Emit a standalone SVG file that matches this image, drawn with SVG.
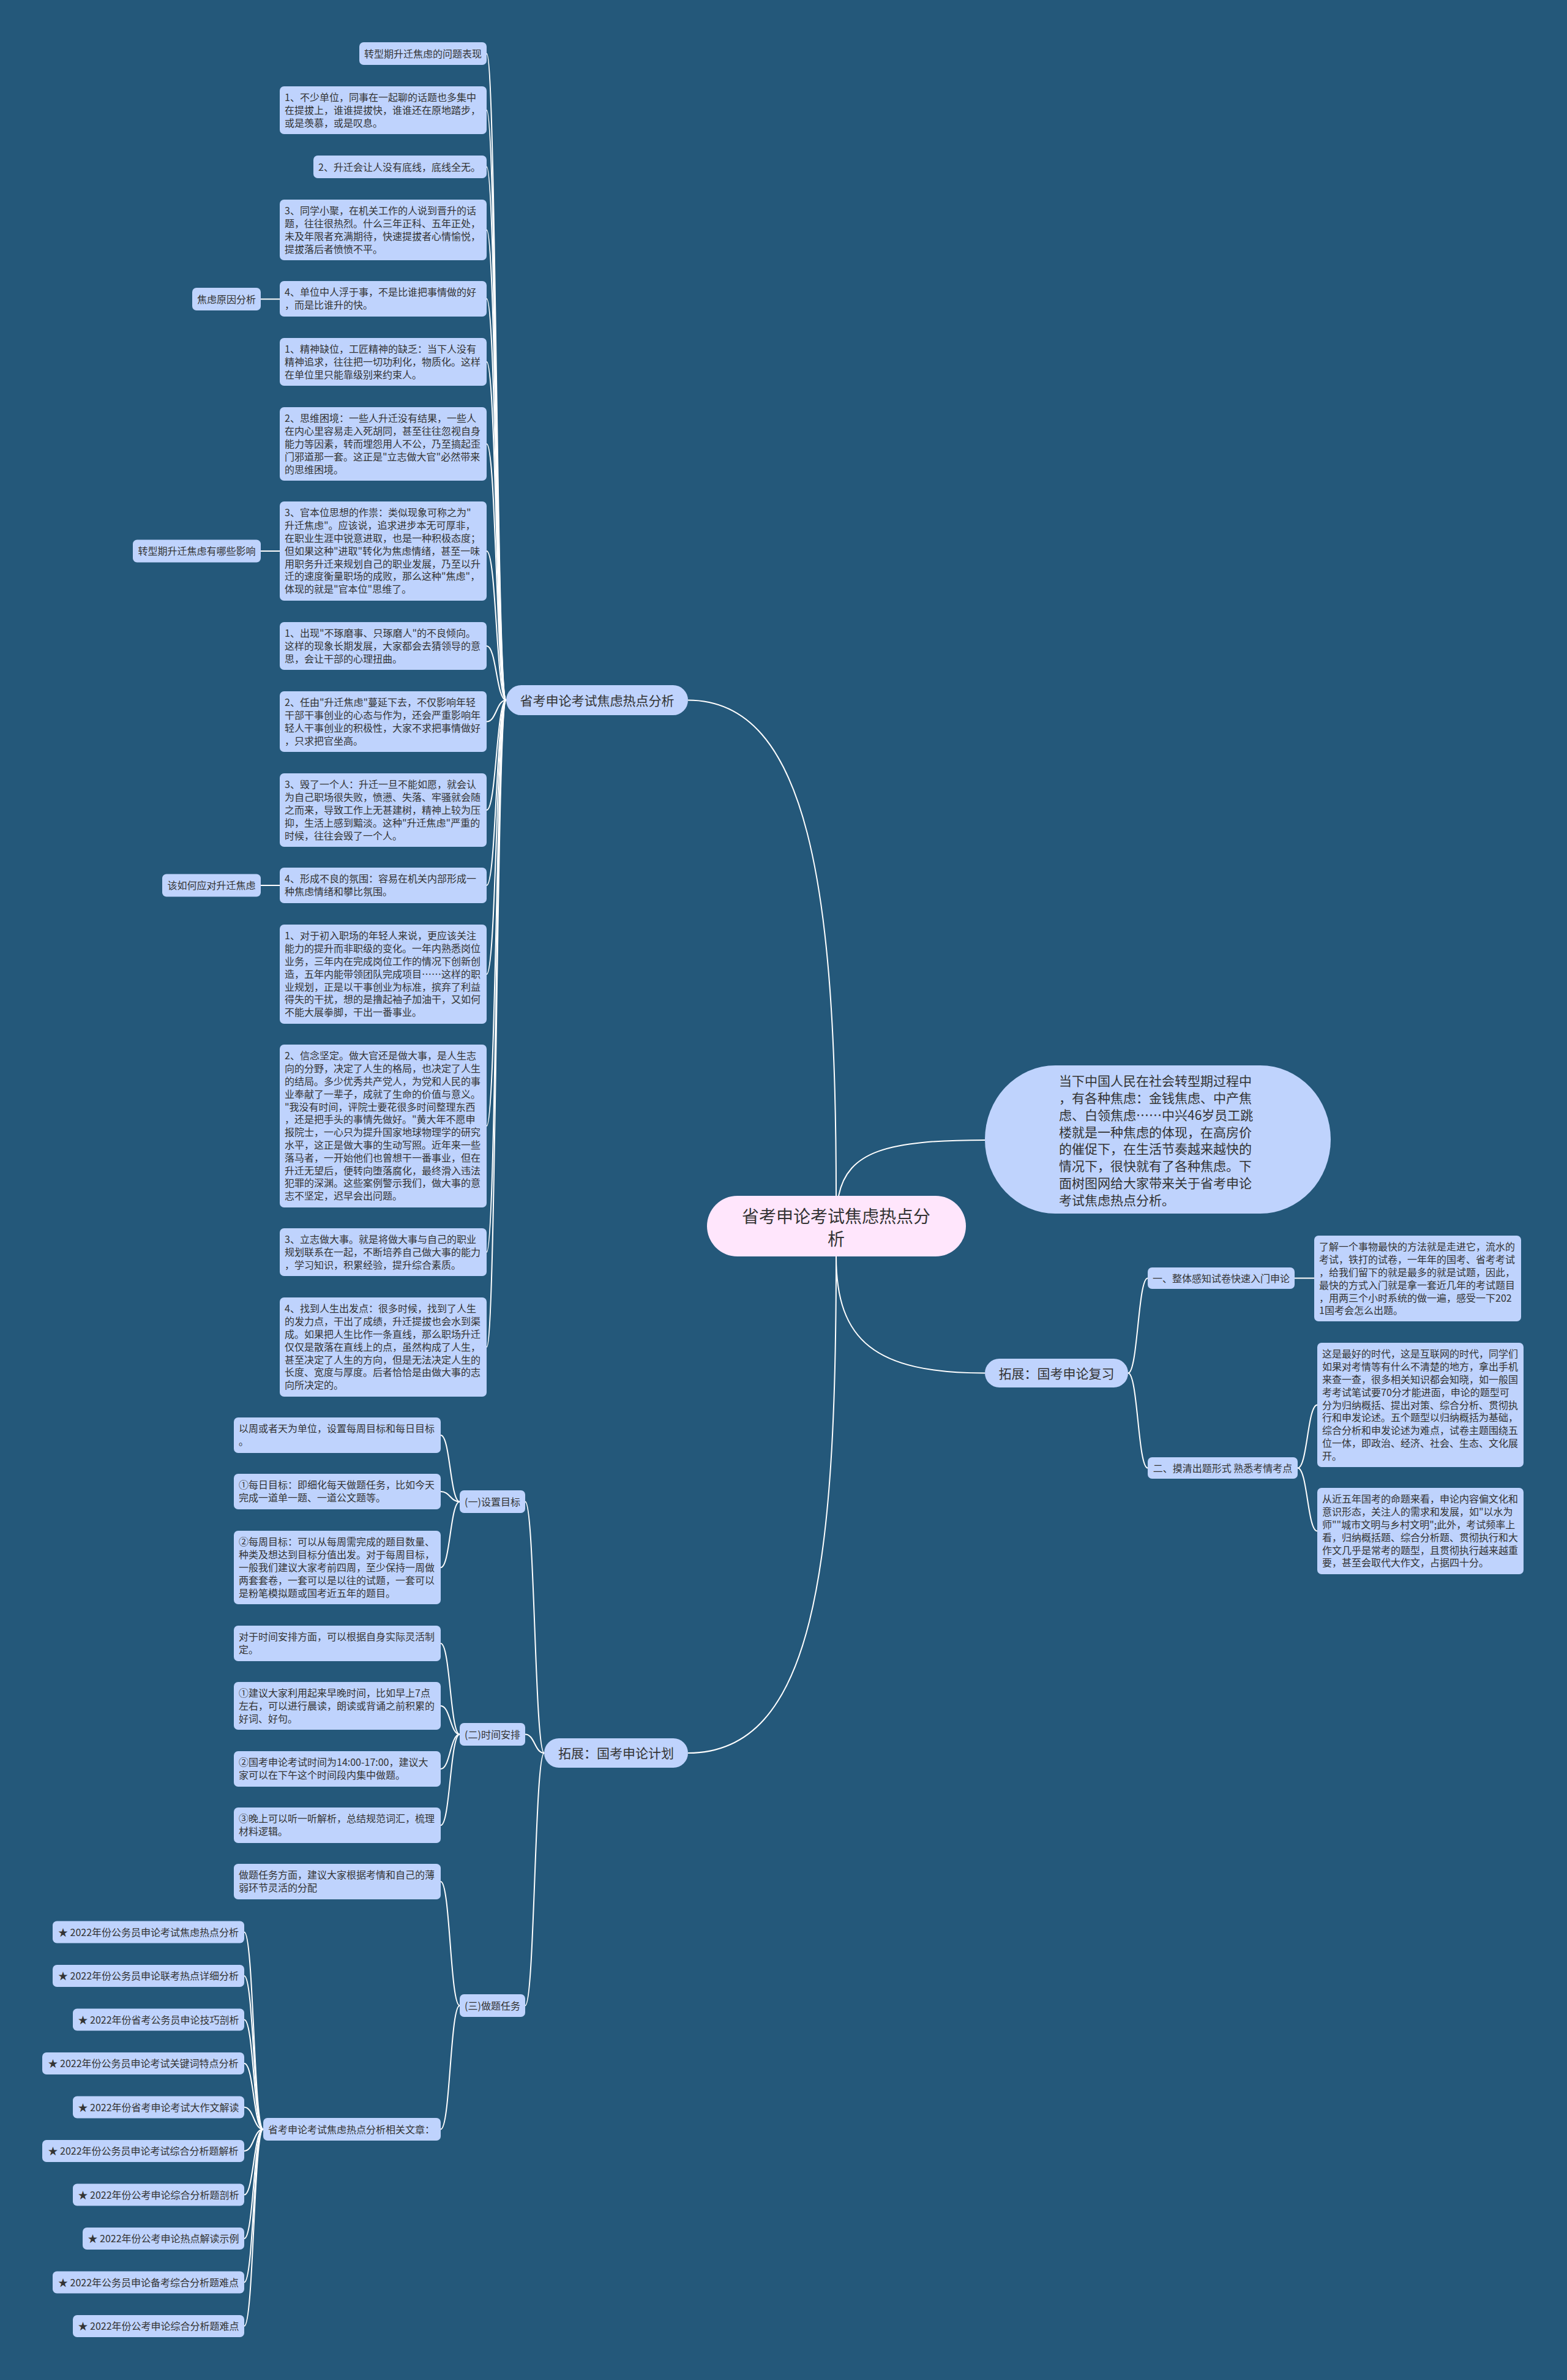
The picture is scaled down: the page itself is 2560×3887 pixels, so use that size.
<svg xmlns="http://www.w3.org/2000/svg" width="2560" height="3887" viewBox="0 0 2560 3887">
<style>
.bg{fill:#24587A}
.n{fill:#BFD3FD}
.c{fill:none;stroke:#FFFFFF;stroke-width:2}
text{font-family:"Noto Sans CJK SC","Microsoft YaHei",sans-serif;fill:#333333}
.t{font-size:16px}
.tm{font-size:16px;text-anchor:middle}
.tb{font-size:21px;text-anchor:middle}
.tr{font-size:28px;text-anchor:middle}
.tp{font-size:21px}
</style>
<rect class="bg" x="0" y="0" width="2560" height="3887"/>
<g id="connectors">
<path class="c" d="M1366,1953C1366,1450 1320,1143.5 1124,1143.5"/>
<path class="c" d="M1370,1953C1385,1880 1450,1862 1609,1862"/>
<path class="c" d="M1366,2052C1366,2190 1430,2242.5 1609,2242.5"/>
<path class="c" d="M1366,2052C1366,2560 1330,2863 1124,2863"/>
<path class="c" d="M827,1143.5C811,1143.5 811,87.5 795,87.5"/>
<path class="c" d="M827,1143.5C811,1143.5 811,180 795,180"/>
<path class="c" d="M827,1143.5C811,1143.5 811,272.5 795,272.5"/>
<path class="c" d="M827,1143.5C811,1143.5 811,375.5 795,375.5"/>
<path class="c" d="M827,1143.5C811,1143.5 811,488 795,488"/>
<path class="c" d="M827,1143.5C811,1143.5 811,591 795,591"/>
<path class="c" d="M827,1143.5C811,1143.5 811,725 795,725"/>
<path class="c" d="M827,1143.5C811,1143.5 811,900 795,900"/>
<path class="c" d="M827,1143.5C811,1143.5 811,1055 795,1055"/>
<path class="c" d="M827,1143.5C811,1143.5 811,1178.5 795,1178.5"/>
<path class="c" d="M827,1143.5C811,1143.5 811,1323 795,1323"/>
<path class="c" d="M827,1143.5C811,1143.5 811,1446 795,1446"/>
<path class="c" d="M827,1143.5C811,1143.5 811,1591 795,1591"/>
<path class="c" d="M827,1143.5C811,1143.5 811,1839 795,1839"/>
<path class="c" d="M827,1143.5C811,1143.5 811,2045 795,2045"/>
<path class="c" d="M827,1143.5C811,1143.5 811,2200 795,2200"/>
<path class="c" d="M457,488.5L426,488.5"/>
<path class="c" d="M457,900L426,900"/>
<path class="c" d="M457,1446L426,1446"/>
<path class="c" d="M889,2863C873.5,2863 873.5,2452.5 858,2452.5"/>
<path class="c" d="M889,2863C873.5,2863 873.5,2832.5 858,2832.5"/>
<path class="c" d="M889,2863C873.5,2863 873.5,3275.5 858,3275.5"/>
<path class="c" d="M751,2452.5C735.5,2452.5 735.5,2344 720,2344"/>
<path class="c" d="M751,2452.5C735.5,2452.5 735.5,2436 720,2436"/>
<path class="c" d="M751,2452.5C735.5,2452.5 735.5,2560 720,2560"/>
<path class="c" d="M751,2832.5C735.5,2832.5 735.5,2684 720,2684"/>
<path class="c" d="M751,2832.5C735.5,2832.5 735.5,2786 720,2786"/>
<path class="c" d="M751,2832.5C735.5,2832.5 735.5,2889 720,2889"/>
<path class="c" d="M751,2832.5C735.5,2832.5 735.5,2981 720,2981"/>
<path class="c" d="M751,3275.5C735.5,3275.5 735.5,3073 720,3073"/>
<path class="c" d="M751,3275.5C735.5,3275.5 735.5,3477.5 720,3477.5"/>
<path class="c" d="M430,3477.5C414.5,3477.5 414.5,3155.5 399,3155.5"/>
<path class="c" d="M430,3477.5C414.5,3477.5 414.5,3227 399,3227"/>
<path class="c" d="M430,3477.5C414.5,3477.5 414.5,3298.5 399,3298.5"/>
<path class="c" d="M430,3477.5C414.5,3477.5 414.5,3370 399,3370"/>
<path class="c" d="M430,3477.5C414.5,3477.5 414.5,3441.5 399,3441.5"/>
<path class="c" d="M430,3477.5C414.5,3477.5 414.5,3513 399,3513"/>
<path class="c" d="M430,3477.5C414.5,3477.5 414.5,3584.5 399,3584.5"/>
<path class="c" d="M430,3477.5C414.5,3477.5 414.5,3656 399,3656"/>
<path class="c" d="M430,3477.5C414.5,3477.5 414.5,3727.5 399,3727.5"/>
<path class="c" d="M430,3477.5C414.5,3477.5 414.5,3799 399,3799"/>
<path class="c" d="M1843,2242.5C1859,2242.5 1859,2087.5 1875,2087.5"/>
<path class="c" d="M1843,2242.5C1859,2242.5 1859,2397.5 1875,2397.5"/>
<path class="c" d="M2115,2087.5L2147,2087.5"/>
<path class="c" d="M2120,2397.5C2136,2397.5 2136,2294.5 2152,2294.5"/>
<path class="c" d="M2120,2397.5C2136,2397.5 2136,2500.5 2152,2500.5"/>
</g>
<g id="center">
<rect x="1155" y="1953" width="423" height="99" rx="49.5" fill="#FFE6FC"/>
<text class="tr" x="1366" y="1996.5">省考申论考试焦虑热点分</text>
<text class="tr" x="1366" y="2033.5">析</text>
</g>
<g id="intro">
<rect class="n" x="1609" y="1740" width="565" height="242" rx="115" ry="121"/>
<text class="tp" x="1730" y="1773"><tspan x="1730">当下中国人民在社会转型期过程中</tspan><tspan x="1730" dy="27.85">，有各种焦虑：金钱焦虑、中产焦</tspan><tspan x="1730" dy="27.85">虑、白领焦虑……中兴46岁员工跳</tspan><tspan x="1730" dy="27.85">楼就是一种焦虑的体现，在高房价</tspan><tspan x="1730" dy="27.85">的催促下，在生活节奏越来越快的</tspan><tspan x="1730" dy="27.85">情况下，很快就有了各种焦虑。下</tspan><tspan x="1730" dy="27.85">面树图网给大家带来关于省考申论</tspan><tspan x="1730" dy="27.85">考试焦虑热点分析。</tspan></text>
</g>
<g id="b1">
<rect class="n" x="827" y="1119" width="297" height="49" rx="24.5"/>
<text class="tb" x="975.5" y="1151.5">省考申论考试焦虑热点分析</text>
</g>
<g id="n0"><rect class="n" x="587" y="69" width="208" height="37" rx="7"/><text class="t" x="595" y="93.5">转型期升迁焦虑的问题表现</text></g>
<g id="n1"><rect class="n" x="457" y="141" width="338" height="78" rx="7"/><text class="t" x="465" y="165.4"><tspan x="465">1、不少单位，同事在一起聊的话题也多集中</tspan><tspan x="465" dy="20.8">在提拔上，谁谁提拔快，谁谁还在原地踏步，</tspan><tspan x="465" dy="20.8">或是羡慕，或是叹息。</tspan></text></g>
<g id="n2"><rect class="n" x="512" y="254" width="283" height="37" rx="7"/><text class="t" x="520" y="278.5">2、升迁会让人没有底线，底线全无。</text></g>
<g id="n3"><rect class="n" x="457" y="326" width="338" height="99" rx="7"/><text class="t" x="465" y="350.4"><tspan x="465">3、同学小聚，在机关工作的人说到晋升的话</tspan><tspan x="465" dy="20.8">题，往往很热烈。什么三年正科、五年正处，</tspan><tspan x="465" dy="20.8">未及年限者充满期待，快速提拔者心情愉悦，</tspan><tspan x="465" dy="20.8">提拔落后者愤愤不平。</tspan></text></g>
<g id="n4"><rect class="n" x="457" y="459" width="338" height="58" rx="7"/><text class="t" x="465" y="483.4"><tspan x="465">4、单位中人浮于事，不是比谁把事情做的好</tspan><tspan x="465" dy="20.8">，而是比谁升的快。</tspan></text></g>
<g id="s_a"><rect class="n" x="314" y="470" width="112" height="37" rx="7"/><text class="tm" x="370" y="494.5">焦虑原因分析</text></g>
<g id="n5"><rect class="n" x="457" y="552" width="338" height="78" rx="7"/><text class="t" x="465" y="576.4"><tspan x="465">1、精神缺位，工匠精神的缺乏：当下人没有</tspan><tspan x="465" dy="20.8">精神追求，往往把一切功利化，物质化。这样</tspan><tspan x="465" dy="20.8">在单位里只能靠级别来约束人。</tspan></text></g>
<g id="n6"><rect class="n" x="457" y="665" width="338" height="120" rx="7"/><text class="t" x="465" y="689.4"><tspan x="465">2、思维困境：一些人升迁没有结果，一些人</tspan><tspan x="465" dy="20.8">在内心里容易走入死胡同，甚至往往忽视自身</tspan><tspan x="465" dy="20.8">能力等因素，转而埋怨用人不公，乃至搞起歪</tspan><tspan x="465" dy="20.8">门邪道那一套。这正是"立志做大官"必然带来</tspan><tspan x="465" dy="20.8">的思维困境。</tspan></text></g>
<g id="n7"><rect class="n" x="457" y="819" width="338" height="162" rx="7"/><text class="t" x="465" y="843.4"><tspan x="465">3、官本位思想的作祟：类似现象可称之为"</tspan><tspan x="465" dy="20.8">升迁焦虑"。应该说，追求进步本无可厚非，</tspan><tspan x="465" dy="20.8">在职业生涯中锐意进取，也是一种积极态度；</tspan><tspan x="465" dy="20.8">但如果这种"进取"转化为焦虑情绪，甚至一味</tspan><tspan x="465" dy="20.8">用职务升迁来规划自己的职业发展，乃至以升</tspan><tspan x="465" dy="20.8">迁的速度衡量职场的成败，那么这种"焦虑"，</tspan><tspan x="465" dy="20.8">体现的就是"官本位"思维了。</tspan></text></g>
<g id="s_b"><rect class="n" x="217" y="881.5" width="209" height="37" rx="7"/><text class="tm" x="321.5" y="906">转型期升迁焦虑有哪些影响</text></g>
<g id="n8"><rect class="n" x="457" y="1016" width="338" height="78" rx="7"/><text class="t" x="465" y="1040.4"><tspan x="465">1、出现"不琢磨事、只琢磨人"的不良倾向。</tspan><tspan x="465" dy="20.8">这样的现象长期发展，大家都会去猜领导的意</tspan><tspan x="465" dy="20.8">思，会让干部的心理扭曲。</tspan></text></g>
<g id="n9"><rect class="n" x="457" y="1129" width="338" height="99" rx="7"/><text class="t" x="465" y="1153.4"><tspan x="465">2、任由"升迁焦虑"蔓延下去，不仅影响年轻</tspan><tspan x="465" dy="20.8">干部干事创业的心态与作为，还会严重影响年</tspan><tspan x="465" dy="20.8">轻人干事创业的积极性，大家不求把事情做好</tspan><tspan x="465" dy="20.8">，只求把官坐高。</tspan></text></g>
<g id="n10"><rect class="n" x="457" y="1263" width="338" height="120" rx="7"/><text class="t" x="465" y="1287.4"><tspan x="465">3、毁了一个人：升迁一旦不能如愿，就会认</tspan><tspan x="465" dy="20.8">为自己职场很失败，愤懑、失落、牢骚就会随</tspan><tspan x="465" dy="20.8">之而来，导致工作上无甚建树，精神上较为压</tspan><tspan x="465" dy="20.8">抑，生活上感到黯淡。这种"升迁焦虑"严重的</tspan><tspan x="465" dy="20.8">时候，往往会毁了一个人。</tspan></text></g>
<g id="n11"><rect class="n" x="457" y="1417" width="338" height="58" rx="7"/><text class="t" x="465" y="1441.4"><tspan x="465">4、形成不良的氛围：容易在机关内部形成一</tspan><tspan x="465" dy="20.8">种焦虑情绪和攀比氛围。</tspan></text></g>
<g id="s_c"><rect class="n" x="265" y="1427.5" width="161" height="37" rx="7"/><text class="tm" x="345.5" y="1452">该如何应对升迁焦虑</text></g>
<g id="n12"><rect class="n" x="457" y="1510" width="338" height="162" rx="7"/><text class="t" x="465" y="1534.4"><tspan x="465">1、对于初入职场的年轻人来说，更应该关注</tspan><tspan x="465" dy="20.8">能力的提升而非职级的变化。一年内熟悉岗位</tspan><tspan x="465" dy="20.8">业务，三年内在完成岗位工作的情况下创新创</tspan><tspan x="465" dy="20.8">造，五年内能带领团队完成项目……这样的职</tspan><tspan x="465" dy="20.8">业规划，正是以干事创业为标准，摈弃了利益</tspan><tspan x="465" dy="20.8">得失的干扰，想的是撸起袖子加油干，又如何</tspan><tspan x="465" dy="20.8">不能大展拳脚，干出一番事业。</tspan></text></g>
<g id="n13"><rect class="n" x="457" y="1706" width="338" height="266" rx="7"/><text class="t" x="465" y="1730.4"><tspan x="465">2、信念坚定。做大官还是做大事，是人生志</tspan><tspan x="465" dy="20.8">向的分野，决定了人生的格局，也决定了人生</tspan><tspan x="465" dy="20.8">的结局。多少优秀共产党人，为党和人民的事</tspan><tspan x="465" dy="20.8">业奉献了一辈子，成就了生命的价值与意义。</tspan><tspan x="465" dy="20.8">"我没有时间，评院士要花很多时间整理东西</tspan><tspan x="465" dy="20.8">，还是把手头的事情先做好。"黄大年不愿申</tspan><tspan x="465" dy="20.8">报院士，一心只为提升国家地球物理学的研究</tspan><tspan x="465" dy="20.8">水平，这正是做大事的生动写照。近年来一些</tspan><tspan x="465" dy="20.8">落马者，一开始他们也曾想干一番事业，但在</tspan><tspan x="465" dy="20.8">升迁无望后，便转向堕落腐化，最终滑入违法</tspan><tspan x="465" dy="20.8">犯罪的深渊。这些案例警示我们，做大事的意</tspan><tspan x="465" dy="20.8">志不坚定，迟早会出问题。</tspan></text></g>
<g id="n14"><rect class="n" x="457" y="2006" width="338" height="78" rx="7"/><text class="t" x="465" y="2030.4"><tspan x="465">3、立志做大事。就是将做大事与自己的职业</tspan><tspan x="465" dy="20.8">规划联系在一起，不断培养自己做大事的能力</tspan><tspan x="465" dy="20.8">，学习知识，积累经验，提升综合素质。</tspan></text></g>
<g id="n15"><rect class="n" x="457" y="2119" width="338" height="162" rx="7"/><text class="t" x="465" y="2143.4"><tspan x="465">4、找到人生出发点：很多时候，找到了人生</tspan><tspan x="465" dy="20.8">的发力点，干出了成绩，升迁提拔也会水到渠</tspan><tspan x="465" dy="20.8">成。如果把人生比作一条直线，那么职场升迁</tspan><tspan x="465" dy="20.8">仅仅是散落在直线上的点，虽然构成了人生，</tspan><tspan x="465" dy="20.8">甚至决定了人生的方向，但是无法决定人生的</tspan><tspan x="465" dy="20.8">长度、宽度与厚度。后者恰恰是由做大事的志</tspan><tspan x="465" dy="20.8">向所决定的。</tspan></text></g>
<g id="b2">
<rect class="n" x="889" y="2839" width="235" height="48" rx="24"/>
<text class="tb" x="1006.5" y="2871">拓展：国考申论计划</text>
</g>
<g id="l1"><rect class="n" x="751" y="2434" width="107" height="37" rx="7"/><text class="tm" x="804.5" y="2458.5">(一)设置目标</text></g>
<g id="l2"><rect class="n" x="751" y="2814" width="107" height="37" rx="7"/><text class="tm" x="804.5" y="2838.5">(二)时间安排</text></g>
<g id="l3"><rect class="n" x="751" y="3257" width="107" height="37" rx="7"/><text class="tm" x="804.5" y="3281.5">(三)做题任务</text></g>
<g id="p0"><rect class="n" x="382" y="2315" width="338" height="58" rx="7"/><text class="t" x="390" y="2339.4"><tspan x="390">以周或者天为单位，设置每周目标和每日目标</tspan><tspan x="390" dy="20.8">。</tspan></text></g>
<g id="p1"><rect class="n" x="382" y="2407" width="338" height="58" rx="7"/><text class="t" x="390" y="2431.4"><tspan x="390">①每日目标：即细化每天做题任务，比如今天</tspan><tspan x="390" dy="20.8">完成一道单一题、一道公文题等。</tspan></text></g>
<g id="p2"><rect class="n" x="382" y="2500" width="338" height="120" rx="7"/><text class="t" x="390" y="2524.4"><tspan x="390">②每周目标：可以从每周需完成的题目数量、</tspan><tspan x="390" dy="20.8">种类及想达到目标分值出发。对于每周目标，</tspan><tspan x="390" dy="20.8">一般我们建议大家考前四周，至少保持一周做</tspan><tspan x="390" dy="20.8">两套套卷，一套可以是以往的试题，一套可以</tspan><tspan x="390" dy="20.8">是粉笔模拟题或国考近五年的题目。</tspan></text></g>
<g id="p3"><rect class="n" x="382" y="2655" width="338" height="58" rx="7"/><text class="t" x="390" y="2679.4"><tspan x="390">对于时间安排方面，可以根据自身实际灵活制</tspan><tspan x="390" dy="20.8">定。</tspan></text></g>
<g id="p4"><rect class="n" x="382" y="2747" width="338" height="78" rx="7"/><text class="t" x="390" y="2771.4"><tspan x="390">①建议大家利用起来早晚时间，比如早上7点</tspan><tspan x="390" dy="20.8">左右，可以进行晨读，朗读或背诵之前积累的</tspan><tspan x="390" dy="20.8">好词、好句。</tspan></text></g>
<g id="p5"><rect class="n" x="382" y="2860" width="338" height="58" rx="7"/><text class="t" x="390" y="2884.4"><tspan x="390">②国考申论考试时间为14:00-17:00，建议大</tspan><tspan x="390" dy="20.8">家可以在下午这个时间段内集中做题。</tspan></text></g>
<g id="p6"><rect class="n" x="382" y="2952" width="338" height="58" rx="7"/><text class="t" x="390" y="2976.4"><tspan x="390">③晚上可以听一听解析，总结规范词汇，梳理</tspan><tspan x="390" dy="20.8">材料逻辑。</tspan></text></g>
<g id="p7"><rect class="n" x="382" y="3044" width="338" height="58" rx="7"/><text class="t" x="390" y="3068.4"><tspan x="390">做题任务方面，建议大家根据考情和自己的薄</tspan><tspan x="390" dy="20.8">弱环节灵活的分配</tspan></text></g>
<g id="rel"><rect class="n" x="430" y="3459" width="290" height="37" rx="7"/><text class="t" x="438" y="3483.5">省考申论考试焦虑热点分析相关文章：</text></g>
<g id="s1"><rect class="n" x="86" y="3137.5" width="313" height="36" rx="7"/><text class="tm" x="242.5" y="3161.5">★ 2022年份公务员申论考试焦虑热点分析</text></g>
<g id="s2"><rect class="n" x="86" y="3209" width="313" height="36" rx="7"/><text class="tm" x="242.5" y="3233">★ 2022年份公务员申论联考热点详细分析</text></g>
<g id="s3"><rect class="n" x="119" y="3280.5" width="280" height="36" rx="7"/><text class="tm" x="259" y="3304.5">★ 2022年份省考公务员申论技巧剖析</text></g>
<g id="s4"><rect class="n" x="69" y="3352" width="330" height="36" rx="7"/><text class="tm" x="234" y="3376">★ 2022年份公务员申论考试关键词特点分析</text></g>
<g id="s5"><rect class="n" x="119" y="3423.5" width="280" height="36" rx="7"/><text class="tm" x="259" y="3447.5">★ 2022年份省考申论考试大作文解读</text></g>
<g id="s6"><rect class="n" x="69" y="3495" width="330" height="36" rx="7"/><text class="tm" x="234" y="3519">★ 2022年份公务员申论考试综合分析题解析</text></g>
<g id="s7"><rect class="n" x="119" y="3566.5" width="280" height="36" rx="7"/><text class="tm" x="259" y="3590.5">★ 2022年份公考申论综合分析题剖析</text></g>
<g id="s8"><rect class="n" x="135" y="3638" width="264" height="36" rx="7"/><text class="tm" x="267" y="3662">★ 2022年份公考申论热点解读示例</text></g>
<g id="s9"><rect class="n" x="86" y="3709.5" width="313" height="36" rx="7"/><text class="tm" x="242.5" y="3733.5">★ 2022年公务员申论备考综合分析题难点</text></g>
<g id="s10"><rect class="n" x="119" y="3781" width="280" height="36" rx="7"/><text class="tm" x="259" y="3805">★ 2022年份公考申论综合分析题难点</text></g>
<g id="b3">
<rect class="n" x="1609" y="2219" width="234" height="47" rx="23.5"/>
<text class="tb" x="1726" y="2250.5">拓展：国考申论复习</text>
</g>
<g id="r_a"><rect class="n" x="1875" y="2070" width="240" height="35" rx="7"/><text class="tm" x="1995" y="2093.5">一、整体感知试卷快速入门申论</text></g>
<g id="r_b"><rect class="n" x="1875" y="2380" width="245" height="35" rx="7"/><text class="tm" x="1997.5" y="2403.5">二、摸清出题形式 熟悉考情考点</text></g>
<g id="r1"><rect class="n" x="2147" y="2018" width="338" height="140" rx="7"/><text class="t" x="2155" y="2042.4"><tspan x="2155">了解一个事物最快的方法就是走进它，流水的</tspan><tspan x="2155" dy="20.8">考试，铁打的试卷，一年年的国考、省考考试</tspan><tspan x="2155" dy="20.8">，给我们留下的就是最多的就是试题，因此，</tspan><tspan x="2155" dy="20.8">最快的方式入门就是拿一套近几年的考试题目</tspan><tspan x="2155" dy="20.8">，用两三个小时系统的做一遍，感受一下202</tspan><tspan x="2155" dy="20.8">1国考会怎么出题。</tspan></text></g>
<g id="r2"><rect class="n" x="2152" y="2193" width="337" height="203" rx="7"/><text class="t" x="2160" y="2217.4"><tspan x="2160">这是最好的时代，这是互联网的时代，同学们</tspan><tspan x="2160" dy="20.8">如果对考情等有什么不清楚的地方，拿出手机</tspan><tspan x="2160" dy="20.8">来查一查，很多相关知识都会知晓，如一般国</tspan><tspan x="2160" dy="20.8">考考试笔试要70分才能进面，申论的题型可</tspan><tspan x="2160" dy="20.8">分为归纳概括、提出对策、综合分析、贯彻执</tspan><tspan x="2160" dy="20.8">行和申发论述。五个题型以归纳概括为基础，</tspan><tspan x="2160" dy="20.8">综合分析和申发论述为难点，试卷主题围绕五</tspan><tspan x="2160" dy="20.8">位一体，即政治、经济、社会、生态、文化展</tspan><tspan x="2160" dy="20.8">开。</tspan></text></g>
<g id="r3"><rect class="n" x="2152" y="2430" width="337" height="141" rx="7"/><text class="t" x="2160" y="2454.4"><tspan x="2160">从近五年国考的命题来看，申论内容偏文化和</tspan><tspan x="2160" dy="20.8">意识形态，关注人的需求和发展，如"以水为</tspan><tspan x="2160" dy="20.8">师""城市文明与乡村文明";此外，考试频率上</tspan><tspan x="2160" dy="20.8">看，归纳概括题、综合分析题、贯彻执行和大</tspan><tspan x="2160" dy="20.8">作文几乎是常考的题型，且贯彻执行越来越重</tspan><tspan x="2160" dy="20.8">要，甚至会取代大作文，占据四十分。</tspan></text></g>
</svg>
